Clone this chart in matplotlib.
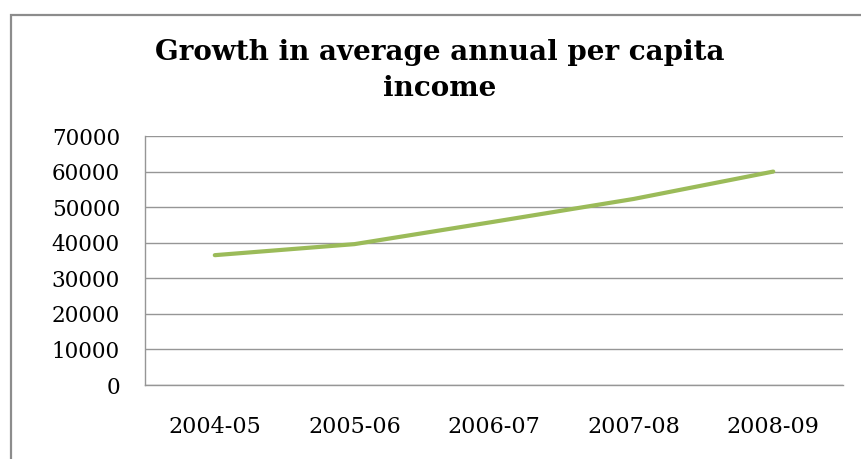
import matplotlib.pyplot as plt
from matplotlib.patches import Rectangle

# per capita income by year
years = ['2004-05', '2005-06', '2006-07', '2007-08', '2008-09']
income = [36500, 39600, 45900, 52300, 60000]
y_ticks = [0, 10000, 20000, 30000, 40000, 50000, 60000, 70000]

plt.rcParams['font.family'] = ['DejaVu Serif']

fig = plt.figure(figsize=(8.62, 4.59), dpi=100)
ax = fig.add_axes([0.1682, 0.1612, 0.8098, 0.5425])

# outer chart frame
fig.patches.append(Rectangle((11 / 862, -0.1), 1.2, 1.1 - 15 / 459 + 0.001,
                             transform=fig.transFigure, fill=False,
                             edgecolor='#8c8c8c', linewidth=1.6))

ax.plot(range(len(years)), income, color='#9bbb59', linewidth=3.0,
        solid_capstyle='round', zorder=3)

ax.set_xlim(-0.5, len(years) - 0.5)
ax.set_ylim(0, 70000)
ax.set_yticks(y_ticks)
ax.set_yticklabels([str(v) for v in y_ticks])
ax.set_xticks(range(len(years)))
ax.set_xticklabels(years)
ax.grid(axis='y', color='#969696', linewidth=1.0)
ax.set_axisbelow(True)

for side in ['top', 'right']:
    ax.spines[side].set_visible(False)
for side in ['left', 'bottom']:
    ax.spines[side].set_color('#969696')
    ax.spines[side].set_linewidth(1.0)

ax.tick_params(axis='y', length=0, pad=18, labelsize=15.5)
ax.tick_params(axis='x', length=0, pad=22, labelsize=16)

fig.text(0.51, 0.846, 'Growth in average annual per capita\nincome',
         ha='center', va='center', fontsize=20, fontweight='bold',
         linespacing=1.4)

fig.savefig('out.png', dpi=100)
